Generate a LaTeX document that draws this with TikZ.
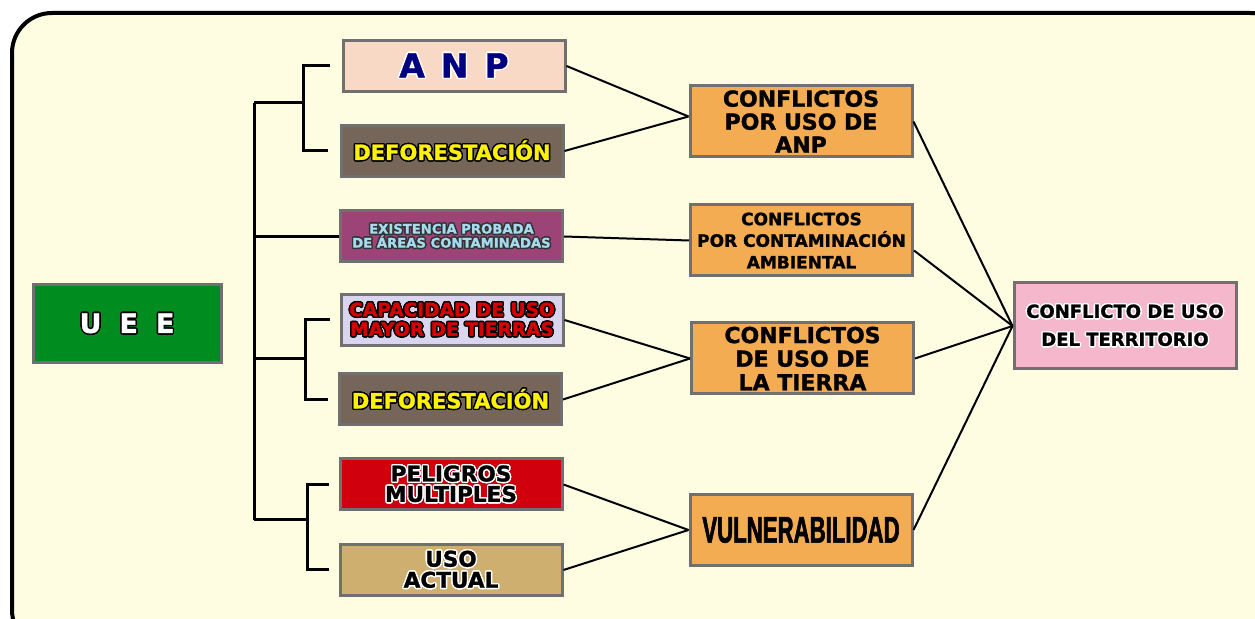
\documentclass[tikz,border=0pt]{standalone}
\usepackage{fontspec}
\setmainfont{DejaVu Sans}[BoldFeatures={FakeBold=1.3}]
\newfontfamily\narrowfont[FakeStretch=0.6,BoldFeatures={FakeBold=1.5}]{Liberation Sans}
\usepackage{contour}
\contourlength{0.7pt}
\contournumber{16}
\usetikzlibrary{calc}

\definecolor{paper}{HTML}{FEFDE1}
\definecolor{boxgray}{HTML}{707070}
\definecolor{uegreen}{HTML}{008C1F}
\definecolor{anpfill}{HTML}{F8D9C6}
\definecolor{anpnavy}{HTML}{000080}
\definecolor{deffill}{HTML}{766659}
\definecolor{defyellow}{HTML}{FFF200}
\definecolor{exifill}{HTML}{9C4478}
\definecolor{exiblue}{HTML}{A6DAEE}
\definecolor{capfill}{HTML}{DAD5EE}
\definecolor{capred}{HTML}{D60000}
\definecolor{pelfill}{HTML}{D0000D}
\definecolor{usofill}{HTML}{CFAF6F}
\definecolor{confor}{HTML}{F3AC52}
\definecolor{terpink}{HTML}{F4B7CC}

\tikzset{
	box/.style={draw=boxgray, line width=1.5pt, minimum width=111pt, inner sep=0pt, align=center},
	leaf/.style={box, minimum height=25.5pt},
	conf/.style={box, minimum height=35.5pt, fill=confor},
	brk/.style={line width=1.5pt},
	link/.style={line width=1pt},
}

\begin{document}
\begin{tikzpicture}[x=0.5pt,y=-0.5pt]
			%%%%% START %%%%%
			\useasboundingbox (0,0) rectangle (1255,619);
			\draw[line width=2pt, fill=paper, rounded corners=20pt] (12,13) rectangle (1290,650);
			
			% root
			\node[box, fill=uegreen, minimum width=94pt, minimum height=39pt, text=white, font=\bfseries\fontsize{13.5}{13.5}\selectfont] (uee) at (127,324) {\contour{black}{U\hspace{9pt}E\hspace{9pt}E}};
			
			% second column
			\node[leaf, fill=anpfill, text=anpnavy, font=\bfseries\fontsize{16.5}{16.5}\selectfont] (anp) at (454,66) {\contour{white}{A\hspace{8pt}N\hspace{8pt}P}};
			\node[leaf, fill=deffill, text=defyellow, font=\bfseries\fontsize{10.5}{10.5}\selectfont] (def1) at (452,151) {\contour{black}{DEFORESTACIÓN}};
			\node[leaf, fill=exifill, text=exiblue, font=\bfseries\fontsize{6.6}{7}\selectfont] (exis) at (451.5,236.5) {\contour{black!80}{EXISTENCIA PROBADA}\\\contour{black!80}{DE ÁREAS CONTAMINADAS}};
			\node[leaf, fill=capfill, text=capred, font=\bfseries\fontsize{9.3}{9.8}\selectfont] (capa) at (452,320) {\contour{black}{CAPACIDAD DE USO}\\\contour{black}{MAYOR DE TIERRAS}};
			\node[leaf, fill=deffill, text=defyellow, font=\bfseries\fontsize{10.5}{10.5}\selectfont] (def2) at (450.5,399.5) {\contour{black}{DEFORESTACIÓN}};
			\node[leaf, fill=pelfill, text=black, font=\bfseries\fontsize{10.8}{10.2}\selectfont] (peli) at (451,484.5) {\contour{white}{PELIGROS}\\\contour{white}{MULTIPLES}};
			\node[leaf, fill=usofill, text=black, font=\bfseries\fontsize{10.8}{10.5}\selectfont] (uso) at (451,570) {\contour{white}{USO}\\\contour{white}{ACTUAL}};
			
			% third column
			\node[conf, font=\bfseries\fontsize{11}{11.5}\selectfont] (c1) at (801,121.5) {CONFLICTOS\\POR USO DE\\ANP};
			\node[conf, font=\bfseries\fontsize{8.5}{10.8}\selectfont] (c2) at (801.5,240.5) {CONFLICTOS\\POR CONTAMINACIÓN\\AMBIENTAL};
			\node[conf, font=\bfseries\fontsize{11}{11.8}\selectfont] (c3) at (802.5,358.5) {CONFLICTOS\\DE USO DE\\LA TIERRA};
			\node[conf, font=\narrowfont\bfseries\fontsize{18.5}{18.5}\selectfont] (vul) at (801,530) {VULNERABILIDAD};
			
			% last box
			\node[box, fill=terpink, minimum height=43pt, text=black, font=\bfseries\fontsize{9}{14}\selectfont] (ter) at (1125,326) {\contour{white}{CONFLICTO DE USO}\\\contour{white}{DEL TERRITORIO}};
			
			% brackets
			\coordinate (trunktop) at (254,103);
			\coordinate (trunkbot) at (254,520);
			\coordinate (fork1) at (303,103);
			\coordinate (fork2) at (305,359);
			\coordinate (fork3) at (307,520);
			\draw[brk] (trunktop) -- (trunkbot);
			\draw[brk] (trunktop) -- (fork1);
			\draw[brk] (trunktop |- fork2) -- (fork2);
			\draw[brk] (trunkbot) -- (fork3);
			\draw[brk] (trunktop |- exis.west) -- (exis.west);
			\draw[brk] ([xshift=-6pt]anp.west) -| (fork1) |- ([xshift=-6pt]def1.west);
			\draw[brk] ([xshift=-5pt]capa.west) -| (fork2) |- ([xshift=-5pt]def2.west);
			\draw[brk] ([xshift=-5pt]peli.west) -| (fork3) |- ([xshift=-5pt]uso.west);
			
			% links
			\draw[link] (anp.east) -- ([yshift=2.5pt]c1.west);
			\draw[link] (def1.east) -- ([yshift=2.5pt]c1.west);
			\draw[link] (exis.east) -- (c2.west);
			\draw[link] (capa.east) -- (c3.west);
			\draw[link] (def2.east) -- (c3.west);
			\draw[link] (peli.east) -- (vul.west);
			\draw[link] (uso.east) -- (vul.west);
			\draw[link] (c1.east) -- (ter.west);
			\draw[link] ([yshift=-5pt]c2.east) -- (ter.west);
			\draw[link] (c3.east) -- (ter.west);
			\draw[link] (vul.east) -- (ter.west);
			%%%%% END %%%%%
\end{tikzpicture}
\end{document}
